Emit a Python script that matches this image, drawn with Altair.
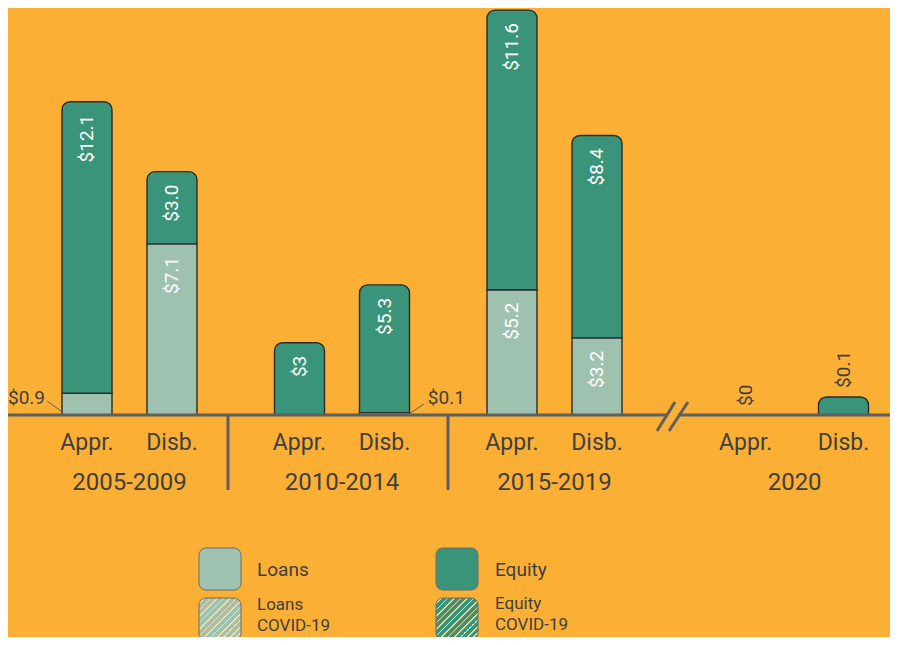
import altair as alt
import pandas as pd

# ---------------- data ----------------
periods = ["2005-2009", "2010-2014", "2015-2019", "2020"]
stages = ["Appr.", "Disb."]
loans_appr = [0.9, 0.0, 5.2, 0.0]
equity_appr = [12.1, 3.0, 11.6, 0.0]
loans_disb = [7.1, 0.1, 3.2, 0.0]
equity_disb = [3.0, 5.3, 8.4, 0.1]
loans_appr_lbl = ["$0.9", "", "$5.2", ""]
equity_appr_lbl = ["$12.1", "$3", "$11.6", "$0"]
loans_disb_lbl = ["$7.1", "$0.1", "$3.2", ""]
equity_disb_lbl = ["$3.0", "$5.3", "$8.4", "$0.1"]
legend_items = ["Loans", "Equity", "Loans\nCOVID-19", "Equity\nCOVID-19"]

# ---------------- style / layout ----------------
BG = "#FBAF34"
LOAN = "#9FC2B0"
EQ = "#3A9479"
INK = "#3F3F3F"
AXIS = "#5F5F5F"
OUT = "#2A2A2A"
FONT = "Roboto"
FW = "normal"

W, H = 882, 629
SLOT_PX = 85.0
X0_PX = 79.0
PX_PER_UNIT = 24.1
BASE_PX = 407.0
slots = [0, 1, 2.5, 3.5, 5, 6, 7.75, 8.9]
BREAK_MIN = 0.75          # bars after the axis break are drawn at a minimum height
HALF = 25 / SLOT_PX

xdom = [-X0_PX / SLOT_PX, (W - X0_PX) / SLOT_PX]
ydom = [-(H - BASE_PX) / PX_PER_UNIT, BASE_PX / PX_PER_UNIT]
xs = alt.Scale(domain=xdom, nice=False, zero=False)
ys = alt.Scale(domain=ydom, nice=False, zero=False)

# ---------------- build tables ----------------
seg_rows, lab_rows, axis_rows = [], [], []
for i, p in enumerate(periods):
    for j, st in enumerate(stages):
        s = slots[2 * i + j]
        L = [loans_appr, loans_disb][j][i]
        E = [equity_appr, equity_disb][j][i]
        Ll = [loans_appr_lbl, loans_disb_lbl][j][i]
        El = [equity_appr_lbl, equity_disb_lbl][j][i]
        broken = p == "2020"
        Ed = max(E, BREAK_MIN) if (broken and E > 0) else E
        if L > 0:
            seg_rows.append(dict(kind="Loans", xa=s - HALF, xb=s + HALF, y0=0, y1=L))
        if E > 0:
            seg_rows.append(dict(kind="Equity", xa=s - HALF, xb=s + HALF, y0=L, y1=L + Ed))
        if L >= 1 and Ll:
            lab_rows.append(dict(x=s, y=L, t=Ll, pos="in"))
        if E >= 1 and El:
            lab_rows.append(dict(x=s, y=L + Ed, t=El, pos="in"))
        if broken and El:
            lab_rows.append(dict(x=s, y=L + Ed, t=El, pos="above"))
        axis_rows.append(dict(x=s, y=-1.16, t=st))

seg = pd.DataFrame(seg_rows)
labs = pd.DataFrame(lab_rows)
axl = pd.DataFrame(axis_rows)
grp = pd.DataFrame(dict(
    x=[(slots[2 * i] + slots[2 * i + 1]) / 2 for i in range(len(periods))],
    y=[-2.82] * len(periods), t=periods))

X = lambda f: alt.X(f, type="quantitative", scale=xs, axis=None)
Y = lambda f: alt.Y(f, type="quantitative", scale=ys, axis=None)

loans_bars = alt.Chart(seg[seg.kind == "Loans"]).mark_rect(
    color=LOAN, stroke=OUT, strokeWidth=1.4
).encode(x=X("xa"), x2="xb", y=Y("y0"), y2="y1")

eq_bars = alt.Chart(seg[seg.kind == "Equity"]).mark_rect(
    color=EQ, stroke=OUT, strokeWidth=1.4,
    cornerRadiusTopLeft=8, cornerRadiusTopRight=8
).encode(x=X("xa"), x2="xb", y=Y("y0"), y2="y1")

in_labels = alt.Chart(labs[labs.pos == "in"]).mark_text(
    angle=270, align="right", baseline="middle", yOffset=13,
    color="white", font=FONT, fontWeight=FW, fontSize=19
).encode(x=X("x"), y=Y("y"), text="t:N")

above_labels = alt.Chart(labs[labs.pos == "above"]).mark_text(
    angle=270, align="left", baseline="middle", yOffset=-9,
    color=INK, font=FONT, fontWeight=FW, fontSize=19
).encode(x=X("x"), y=Y("y"), text="t:N")

# small values labelled outside with leader lines
out_df = pd.DataFrame(dict(
    x=[slots[0] - 0.494, slots[3] + 0.51], y=[0.7, 0.7],
    t=[loans_appr_lbl[0], loans_disb_lbl[1]]))
out_left = alt.Chart(out_df.iloc[[0]]).mark_text(
    align="right", baseline="middle", color=INK, font=FONT, fontWeight=FW, fontSize=19
).encode(x=X("x"), y=Y("y"), text="t:N")
out_right = alt.Chart(out_df.iloc[[1]]).mark_text(
    align="left", baseline="middle", color=INK, font=FONT, fontWeight=FW, fontSize=19
).encode(x=X("x"), y=Y("y"), text="t:N")
lead_df = pd.DataFrame(dict(
    xa=[slots[0] - 0.47, slots[3] + 0.288], xb=[slots[0] - 0.306, slots[3] + 0.465],
    ya=[0.58, 0.04], yb=[0.166, 0.456]))
leaders = alt.Chart(lead_df).mark_rule(color=AXIS, strokeWidth=1).encode(
    x=X("xa"), x2="xb", y=Y("ya"), y2="yb")

stage_text = alt.Chart(axl).mark_text(
    align="center", baseline="middle", color=INK, font=FONT, fontWeight=FW, fontSize=23
).encode(x=X("x"), y=Y("y"), text="t:N")
group_text = alt.Chart(grp).mark_text(
    align="center", baseline="middle", color=INK, font=FONT, fontWeight=FW, fontSize=24
).encode(x=X("x"), y=Y("y"), text="t:N")

dummy = pd.DataFrame({"a": [0]})


def line(x1, y1, x2, y2, color=AXIS, w=3):
    return alt.Chart(dummy).mark_rule(color=color, strokeWidth=w, strokeCap="butt").encode(
        x=alt.value(x1), y=alt.value(y1), x2=alt.value(x2), y2=alt.value(y2))


deco = [
    line(0, BASE_PX, 658, BASE_PX),
    line(670, BASE_PX, W, BASE_PX),
    line(649, 423, 667, 394),
    line(661, 423, 680, 394),
    line(220, BASE_PX, 220, 482),
    line(440, BASE_PX, 440, 482),
]


def hatch(base, stripe, n=13, frac=0.25):
    stops = []
    for k in range(n):
        a = k / n
        b = (k + 1) / n
        m = b - frac / n
        stops += [alt.GradientStop(color=base, offset=a), alt.GradientStop(color=base, offset=m),
                  alt.GradientStop(color=stripe, offset=m), alt.GradientStop(color=stripe, offset=b)]
    return alt.Gradient(gradient="linear", stops=stops, x1=0, y1=0, x2=1, y2=1)


def box(x1, y1, x2, y2, fill):
    return alt.Chart(dummy).mark_rect(
        fill=fill, stroke="#6A6A6A", strokeWidth=1, cornerRadius=7
    ).encode(x=alt.value(x1), y=alt.value(y1), x2=alt.value(x2), y2=alt.value(y2))


def txt(x, y, t, size=18):
    return alt.Chart(dummy).mark_text(
        align="left", baseline="middle", color=INK, font=FONT, fontWeight=FW,
        fontSize=size, text=t
    ).encode(x=alt.value(x), y=alt.value(y))


legend = [
    box(191, 540, 233, 582, LOAN),
    box(191, 590, 233, 632, hatch(LOAN, "rgba(255,255,255,0.55)")),
    box(428, 540, 470, 582, EQ),
    box(428, 590, 470, 632, hatch(EQ, "rgba(255,255,255,0.45)")),
    txt(249, 562, legend_items[0], 19),
    txt(487, 562, legend_items[1], 19),
    txt(249, 597, legend_items[2].split("\n")[0], 17),
    txt(249, 618, legend_items[2].split("\n")[1], 17),
    txt(487, 596, legend_items[3].split("\n")[0], 17),
    txt(487, 617, legend_items[3].split("\n")[1], 17),
]

chart = alt.layer(
    loans_bars, eq_bars, leaders, *deco,
    in_labels, above_labels, out_left, out_right, stage_text, group_text,
    *legend
).properties(
    width=W, height=H, background=BG, padding=0,
    autosize=alt.AutoSizeParams(type="none")
).configure_view(stroke=None)

chart.save("out.html", embed_options={"renderer": "svg", "actions": False})
